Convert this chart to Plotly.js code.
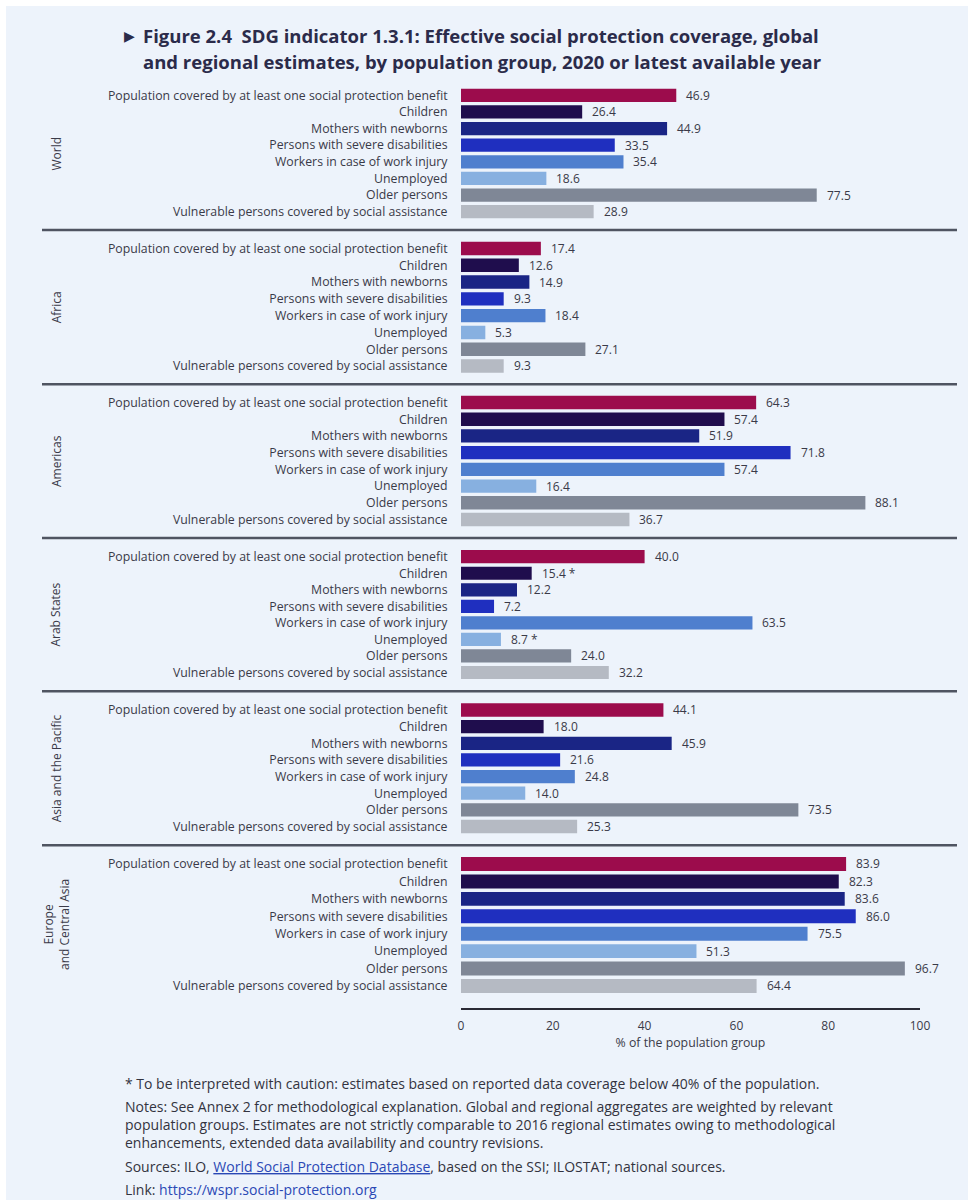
<!DOCTYPE html>
<html>
<head>
<meta charset="utf-8">
<script src="https://cdn.plot.ly/plotly-3.0.1.min.js"></script>
<style>
  html, body { margin: 0; padding: 0; background: #ffffff; }
  #chart { width: 968px; height: 1200px; }
</style>
</head>
<body>
<div id="chart"></div>
<script>
// Population groups (one bar each, in display order)
const groups = [
  'Population covered by at least one social protection benefit',
  'Children',
  'Mothers with newborns',
  'Persons with severe disabilities',
  'Workers in case of work injury',
  'Unemployed',
  'Older persons',
  'Vulnerable persons covered by social assistance'
];

// Regions (one panel each)
const regions = ['World', 'Africa', 'Americas', 'Arab States', 'Asia and the Pacific', 'Europe<br>and Central Asia'];

// Effective coverage, % of the population group
const world             = [46.9, 26.4, 44.9, 33.5, 35.4, 18.6, 77.5, 28.9];
const africa            = [17.4, 12.6, 14.9,  9.3, 18.4,  5.3, 27.1,  9.3];
const americas          = [64.3, 57.4, 51.9, 71.8, 57.4, 16.4, 88.1, 36.7];
const arabStates        = [40.0, 15.4, 12.2,  7.2, 63.5,  8.7, 24.0, 32.2];
const asiaPacific       = [44.1, 18.0, 45.9, 21.6, 24.8, 14.0, 73.5, 25.3];
const europeCentralAsia = [83.9, 82.3, 83.6, 86.0, 75.5, 51.3, 96.7, 64.4];

// Estimates flagged "to be interpreted with caution"
const cautionWorld    = [false, false, false, false, false, false, false, false];
const cautionAfrica   = [false, false, false, false, false, false, false, false];
const cautionAmericas = [false, false, false, false, false, false, false, false];
const cautionArab     = [false, true,  false, false, false, true,  false, false];
const cautionAsia     = [false, false, false, false, false, false, false, false];
const cautionEurope   = [false, false, false, false, false, false, false, false];

// X axis ticks
const xTicks = [0, 20, 40, 60, 80, 100];

const regionValues = [world, africa, americas, arabStates, asiaPacific, europeCentralAsia];
const regionCaution = [cautionWorld, cautionAfrica, cautionAmericas, cautionArab, cautionAsia, cautionEurope];

// Styling
const groupColors = ['#9c0c4c', '#1f0d4d', '#1a2585', '#1f2fbf', '#4f7fce', '#87b0e0', '#7f8796', '#b5bac3'];
const FONT = 'Open Sans, Noto Sans, sans-serif';
const TEXT = '#3a3a48';
const BG = '#edf3fb';

// Pixel geometry of the plotting area
const W = 968, H = 1200;
const L = 461, R = 920, T = 80, B = 1008;
const pw = R - L, ph = B - T;
const px = x => (x - L) / pw;
const py = y => (B - y) / ph;

// First and last bar centres of each panel (pixels from top)
const panelRows = [
  [95.3, 211.7],
  [248.5, 366.0],
  [402.5, 519.5],
  [556.7, 672.5],
  [710.0, 826.5],
  [864.0, 986.0]
];

const traces = [];
const annotations = [];
const shapes = [];
const layout = {
  width: W, height: H,
  margin: { l: L, r: W - R, t: T, b: H - B, pad: 0 },
  paper_bgcolor: '#ffffff',
  plot_bgcolor: 'rgba(0,0,0,0)',
  showlegend: false,
  bargap: 0.2,
  font: { family: FONT, color: TEXT, size: 12 },
  xaxis: {
    anchor: 'free', position: 0,
    range: [0, 100], tickvals: xTicks, ticktext: xTicks.map(String),
    showgrid: false, zeroline: false,
    showline: true, linecolor: '#2a2a35', linewidth: 1.6,
    ticks: 'outside', ticklen: 6, tickcolor: 'rgba(0,0,0,0)',
    tickfont: { family: FONT, size: 12, color: TEXT },
    title: { text: '% of the population group', font: { family: FONT, size: 12.3, color: TEXT }, standoff: 3 },
    fixedrange: true
  }
};

regionValues.forEach((vals, i) => {
  const yName = i === 0 ? 'y' : 'y' + (i + 1);
  const axKey = i === 0 ? 'yaxis' : 'yaxis' + (i + 1);
  const [c0, c7] = panelRows[i];
  const pitch = (c7 - c0) / 7;
  const top = c0 - pitch / 2, bottom = c7 + pitch / 2;

  layout[axKey] = {
    domain: [py(bottom), py(top)],
    anchor: 'x',
    type: 'category',
    categoryorder: 'array', categoryarray: groups,
    range: [7.5, -0.5],
    showgrid: false, zeroline: false, showline: false,
    ticks: 'outside', ticklen: 10, tickcolor: 'rgba(0,0,0,0)',
    tickfont: { family: FONT, size: 12.3, color: TEXT },
    fixedrange: true
  };

  traces.push({
    type: 'bar', orientation: 'h',
    x: vals, y: groups,
    xaxis: 'x', yaxis: yName,
    marker: { color: groupColors, line: { width: 0 } },
    hoverinfo: 'x+y'
  });

  // value labels
  vals.forEach((v, j) => {
    annotations.push({
      xref: 'x', yref: yName,
      x: v, y: groups[j],
      text: v.toFixed(1) + (regionCaution[i][j] ? ' *' : ''),
      xanchor: 'left', yanchor: 'middle', xshift: 8,
      showarrow: false,
      font: { family: FONT, size: 12, color: TEXT }
    });
  });

  // region name
  annotations.push({
    xref: 'paper', yref: 'paper',
    x: px(56), y: py((top + bottom) / 2),
    text: regions[i], textangle: -90,
    xanchor: 'center', yanchor: 'middle', align: 'center',
    showarrow: false,
    font: { family: FONT, size: 12, color: TEXT }
  });

  // separator under each panel except the last
  if (i < regionValues.length - 1) {
    const next = panelRows[i + 1][0];
    const ySep = (c7 + next) / 2;
    shapes.push({
      type: 'line', xref: 'paper', yref: 'paper',
      x0: px(42), x1: px(957), y0: py(ySep), y1: py(ySep),
      line: { color: '#4f5461', width: 2.5 }
    });
  }
});

// light page panel
shapes.unshift({
  type: 'rect', xref: 'paper', yref: 'paper', layer: 'below',
  x0: px(6), x1: px(W), y0: py(H), y1: py(6),
  fillcolor: BG, line: { width: 0 }
});

// heading
const TITLE = '#2b2b4a';
annotations.push({
  xref: 'paper', yref: 'paper', x: px(122), y: py(35),
  xanchor: 'left', yanchor: 'middle', showarrow: false,
  text: '\u25B6', font: { family: FONT, size: 14, color: TITLE }
});
annotations.push({
  xref: 'paper', yref: 'paper', x: px(141), y: py(35),
  xanchor: 'left', yanchor: 'middle', showarrow: false,
  text: '<b>Figure 2.4\u00A0 SDG indicator 1.3.1: Effective social protection coverage, global</b>',
  font: { family: FONT, size: 18.5, color: TITLE }
});
annotations.push({
  xref: 'paper', yref: 'paper', x: px(141), y: py(61),
  xanchor: 'left', yanchor: 'middle', showarrow: false,
  text: '<b>and regional estimates, by population group, 2020 or latest available year</b>',
  font: { family: FONT, size: 18.5, color: TITLE }
});

// notes below the chart
const LINK = '#2a48b5';
const noteFont = { family: FONT, size: 14, color: '#333340' };
const notes = [
  [1083, '* To be interpreted with caution: estimates based on reported data coverage below 40% of the population.'],
  [1124, 'Notes: See Annex 2 for methodological explanation. Global and regional aggregates are weighted by relevant<br>' +
         'population groups. Estimates are not strictly comparable to 2016 regional estimates owing to methodological<br>' +
         'enhancements, extended data availability and country revisions.'],
  [1166, 'Sources: ILO, <span style="color:' + LINK + ';text-decoration:underline">World Social Protection Database</span>, based on the SSI; ILOSTAT; national sources.'],
  [1189, 'Link: <span style="color:' + LINK + '">https://wspr.social-protection.org</span>']
];
notes.forEach(([y, t]) => {
  annotations.push({
    xref: 'paper', yref: 'paper', x: px(123), y: py(y),
    xanchor: 'left', yanchor: 'middle', align: 'left', showarrow: false,
    text: t, font: noteFont
  });
});

layout.annotations = annotations;
layout.shapes = shapes;

Plotly.newPlot('chart', traces, layout, { displayModeBar: false, staticPlot: true });
</script>
</body>
</html>
